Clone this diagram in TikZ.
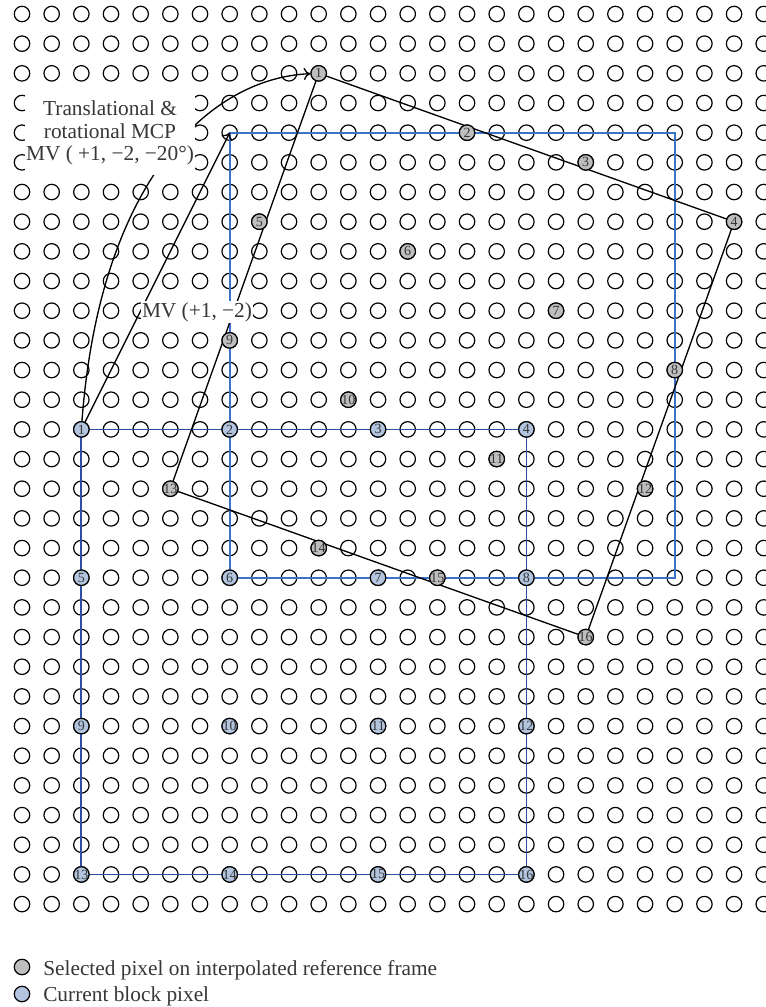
\documentclass[tikz,border=0pt]{standalone}
\usepackage{fontspec}
\setmainfont{Liberation Serif}
\usetikzlibrary{arrows.meta}
\pgfdeclarelayer{gridlayer}
\pgfdeclarelayer{back}
\pgfsetlayers{gridlayer,back,main}
\definecolor{grayfill}{RGB}{190,190,190}
\definecolor{bluefill}{RGB}{178,196,222}
\definecolor{blockblue}{RGB}{45,80,165}
\definecolor{refblue}{RGB}{60,115,200}
\definecolor{txt}{RGB}{55,55,55}
\begin{document}
\begin{tikzpicture}[x=0.75pt,y=-0.75pt,
  gc/.style={circle,draw=black,line width=0.9pt,minimum size=11.6pt,inner sep=0pt},
  gp/.style={gc,fill=grayfill},
  bp/.style={gc,fill=bluefill},
  num/.style={font=\fontsize{10.5}{11}\selectfont,inner sep=0pt,text=txt},
  lbl/.style={font=\fontsize{16}{17}\selectfont,text=txt},
  arr/.style={line width=1pt,-{To[length=5pt,width=9pt]}},
  blk/.style={line width=1pt,draw=black}
]
\useasboundingbox (0,0) rectangle (766,1007);
% grid of pixels
\begin{pgfonlayer}{gridlayer}
\foreach \i in {0,...,25}{
  \foreach \j in {0,...,30}{
    \node[gc] (c-\i-\j) at ({22+29.67*\i},{14+29.67*\j}) {};
  }
}
\end{pgfonlayer}
% selected pixels (reference frame)
\foreach \n/\i/\j in {1/10/2,2/15/4,3/19/5,4/24/7,5/8/7,6/13/8,7/18/10,8/22/12,
                      9/7/11,10/11/13,11/16/15,12/21/16,13/5/16,14/10/18,15/14/19,16/19/21}{
  \node[gp] (g\n) at (c-\i-\j) {};
  \node[num] (gn\n) at (g\n) {\n};
}
% current block pixels
\foreach \n/\i/\j in {1/2/14,2/7/14,3/12/14,4/17/14,5/2/19,6/7/19,7/12/19,8/17/19,
                      9/2/24,10/7/24,11/12/24,12/17/24,13/2/29,14/7/29,15/12/29,16/17/29}{
  \node[bp] (b\n) at (c-\i-\j) {};
  \node[num] (bn\n) at (b\n) {\n};
}
% labels
\node[lbl,fill=white,align=center,inner xsep=1pt,inner ysep=7pt] (t1) at (110,133)
  {Translational \&\\rotational MCP\\MV ( +1, −2, −20°)};
\node[lbl,fill=white,inner sep=1pt] (t2) at (197,312) {MV (+1, −2)};
% connectors
\begin{pgfonlayer}{back}
\draw[blockblue,line width=1.3pt] (b1.center) -- (b4.center) -- (b16.center) -- (b13.center) -- cycle;
\draw[refblue,line width=1.3pt] (c-7-4.center) -- (c-22-4.center) -- (c-22-19.center) -- (c-7-19.center) -- cycle;
\draw[blk] (g1.center) -- (g4.center) -- (g16.center) -- (g13.center) -- cycle;
\draw[arr] (b1) -- (c-7-4.center);
\draw[arr] (b1) .. controls (100,180) and (210,78) .. (g1);
\end{pgfonlayer}
% legend
\node[gp] (lg) at (22,967) {};
\node[lbl,anchor=base west,inner sep=0pt] (lgt) at (43,975) {Selected pixel on interpolated reference frame};
\node[bp] (lb) at (22,994) {};
\node[lbl,anchor=base west,inner sep=0pt] (lbt) at (43,1001) {Current block pixel};
\end{tikzpicture}
\end{document}
